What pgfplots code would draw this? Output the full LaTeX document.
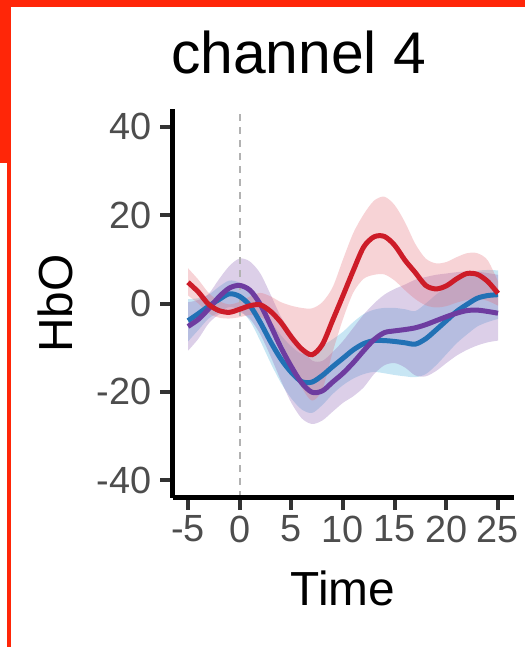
\documentclass[border=0pt]{standalone}
\usepackage{pgfplots}
\pgfplotsset{compat=1.18}
\usepackage{pgfplotstable}
\usepgfplotslibrary{fillbetween}
\usepackage{fontspec}
\setmainfont{Liberation Sans}
\definecolor{frame}{RGB}{255,38,8}
\definecolor{redline}{RGB}{205,28,40}
\definecolor{blueline}{RGB}{33,113,181}
\definecolor{purpleline}{RGB}{110,60,160}
\definecolor{redband}{RGB}{230,110,120}
\definecolor{blueband}{RGB}{110,190,225}
\definecolor{purpleband}{RGB}{145,105,185}
\definecolor{ticklab}{RGB}{77,77,77}
\pgfplotstableread{
x r rlo rhi b blo bhi p plo phi
-5 4.8 1.8 8.0 -3.9 -8.6 1.0 -5.2 -10.7 0.3
-4 2.6 0.0 5.4 -2.3 -6.0 1.2 -3.6 -8.0 0.8
-3 -0.2 -2.2 2.4 -0.6 -3.4 2.0 -1.2 -4.5 2.2
-2 -1.6 -3.2 0.6 0.9 -2.0 3.8 1.5 -2.5 5.5
-1 -2.0 -3.4 -0.2 2.2 -0.8 5.2 3.5 -2.0 8.5
0 -1.3 -3.1 0.4 1.6 -1.5 4.7 4.1 -2.0 10.2
1 -0.5 -2.6 1.6 -0.5 -4.0 3.0 3.0 -3.5 9.5
2 -0.3 -3.0 2.4 -4.3 -8.5 -0.2 -0.2 -7.0 6.8
3 -1.8 -4.8 1.6 -8.7 -13.5 -4.0 -5.0 -12.0 2.0
4 -4.3 -8.5 0.3 -12.6 -18.0 -7.2 -10.0 -17.5 -3.0
5 -7.6 -14.0 -0.5 -15.6 -21.5 -9.7 -14.3 -22.5 -6.5
6 -10.3 -19.0 -1.0 -17.7 -24.0 -11.4 -18.0 -26.0 -10.0
7 -11.6 -22.0 -1.1 -17.8 -24.8 -11.0 -20.1 -27.3 -12.9
8 -9.3 -19.5 0.3 -16.3 -23.0 -9.6 -19.8 -26.5 -13.0
9 -3.8 -11.0 3.7 -14.3 -20.5 -8.1 -17.8 -24.5 -11.0
10 1.8 -3.5 10.0 -12.4 -18.5 -6.4 -15.8 -22.5 -8.5
11 7.5 2.5 16.0 -10.5 -17.0 -4.2 -13.4 -21.0 -5.5
12 12.8 5.6 20.2 -9.1 -16.0 -2.4 -10.7 -19.0 -2.5
13 15.1 6.5 23.3 -8.4 -15.5 -1.4 -8.2 -16.0 0.0
14 15.2 6.6 24.2 -8.4 -15.8 -1.0 -6.6 -14.0 2.0
15 13.2 5.2 22.3 -8.6 -16.2 -1.0 -6.2 -13.5 3.3
16 9.8 3.0 18.4 -8.9 -16.5 -1.3 -5.9 -14.5 4.3
17 7.0 1.0 13.5 -9.2 -16.7 -1.7 -5.5 -16.3 5.4
18 4.1 -0.4 10.2 -8.0 -16.0 0.0 -4.8 -16.5 6.0
19 3.3 -0.9 9.1 -6.0 -14.0 2.0 -3.9 -15.3 6.5
20 4.0 -0.6 9.4 -3.9 -11.5 3.7 -3.0 -13.5 6.8
21 5.6 0.2 10.5 -1.8 -9.0 5.4 -2.2 -11.8 7.1
22 6.8 0.8 11.4 -0.2 -7.0 6.6 -1.6 -10.5 7.3
23 6.6 1.1 11.4 1.2 -5.2 7.4 -1.5 -9.5 7.2
24 5.0 0.6 9.8 1.8 -4.2 7.6 -1.8 -8.8 6.9
25 2.3 -0.5 5.0 2.0 -3.5 7.5 -2.2 -8.4 6.5
}\data
\begin{document}
\begin{tikzpicture}
\fill[frame] (0,0) rectangle (525bp,-6.5bp);
\fill[frame] (0,0) rectangle (10.7bp,-163bp);
\fill[frame] (6.7bp,0) rectangle (10.7bp,-647bp);
\begin{axis}[
  at={(172.5bp,-497.7bp)}, anchor=south west,
  scale only axis, width=341bp, height=388.4bp,
  xmin=-6.5, xmax=26.5, ymin=-44, ymax=44,
  axis lines=left,
  axis line style={-, line width=4.5bp, black},
  xtick={-5,0,5,10,15,20,25}, xticklabels={-5,0,5,10,15,20,25},
  ytick={-40,-20,0,20,40}, yticklabels={-40,-20,0,20,40},
  tick align=outside, major tick length=12bp,
  tick style={line width=4bp, color=black!80},
  tick label style={font=\fontsize{38}{40}\selectfont, text=ticklab},
  xticklabel style={anchor=north, inner sep=0pt, yshift=-6bp},
  yticklabel style={anchor=east, inner sep=0pt, xshift=-9bp},
  axis on top,
]
\addplot[draw=none, smooth, name path=rhi] table[x=x,y=rhi]{\data};
\addplot[draw=none, smooth, name path=rlo] table[x=x,y=rlo]{\data};
\addplot[draw=none, smooth, name path=bhi] table[x=x,y=bhi]{\data};
\addplot[draw=none, smooth, name path=blo] table[x=x,y=blo]{\data};
\addplot[draw=none, smooth, name path=phi] table[x=x,y=phi]{\data};
\addplot[draw=none, smooth, name path=plo] table[x=x,y=plo]{\data};
\addplot[fill=blueband, fill opacity=0.38, draw=none] fill between[of=bhi and blo];
\addplot[fill=purpleband, fill opacity=0.32, draw=none] fill between[of=phi and plo];
\addplot[fill=redband, fill opacity=0.3, draw=none] fill between[of=rhi and rlo];
\addplot[draw=black!30, line width=1.8bp, dash pattern=on 7bp off 6bp] coordinates {(0,-44) (0,44)};
\addplot[blueline, smooth, line width=5bp] table[x=x,y=b]{\data};
\addplot[purpleline, smooth, line width=5bp] table[x=x,y=p]{\data};
\addplot[redline, smooth, line width=5bp] table[x=x,y=r]{\data};
\end{axis}
\node[anchor=base west, font=\fontsize{59}{61}\selectfont, inner sep=0pt] at (171bp,-73bp) {channel 4};
\node[anchor=base, font=\fontsize{48}{50}\selectfont, inner sep=0pt] at (343bp,-605bp) {Time};
\node[anchor=base, rotate=90, font=\fontsize{48}{50}\selectfont, inner sep=0pt] at (72bp,-303.5bp) {HbO};
\path (0,0) rectangle (525bp,-647bp);
\end{tikzpicture}
\end{document}
